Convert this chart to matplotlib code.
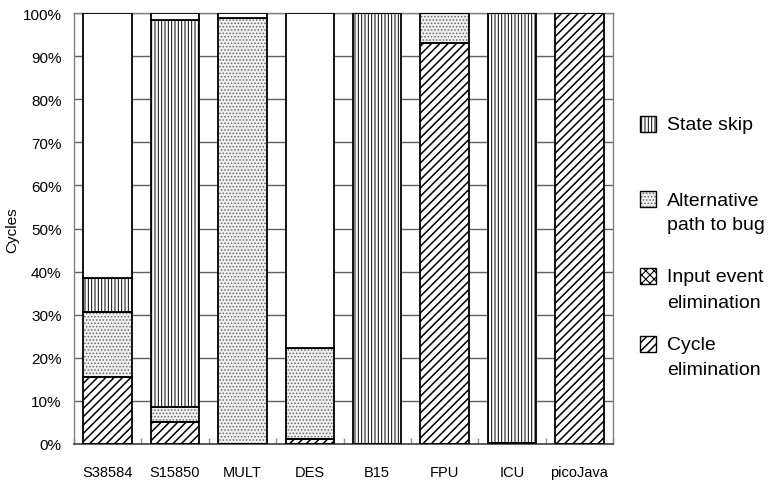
import matplotlib
matplotlib.use("Agg")
import matplotlib.pyplot as plt
import numpy as np
from matplotlib.patches import Rectangle

plt.rcParams['font.family'] = ['Liberation Sans', 'DejaVu Sans']
plt.rcParams['hatch.linewidth'] = 0.8

# Share of cycles (%) per benchmark, per reduction technique
categories = ['S38584', 'S15850', 'MULT', 'DES', 'B15', 'FPU', 'ICU', 'picoJava']
cycle_elim = [15.5, 5.2, 0.0, 1.1, 0.0, 93.1, 0.3, 100.0]
input_elim = [0.0, 0.0, 0.0, 0.0, 0.0, 0.0, 0.0, 0.0]
alt_path = [15.2, 3.3, 98.8, 21.1, 0.0, 6.9, 0.0, 0.0]
state_skip = [7.8, 89.9, 0.0, 0.0, 100.0, 0.0, 99.7, 0.0]
y_ticks = [0, 10, 20, 30, 40, 50, 60, 70, 80, 90, 100]
y_tick_labels = ['0%', '10%', '20%', '30%', '40%', '50%', '60%', '70%', '80%', '90%', '100%']

# name, values, hatch, hatch colour, face colour, hatch line width
series = [
    ('Cycle elimination', cycle_elim, '////', 'black', 'white', 1.1),
    ('Input event elimination', input_elim, 'xxxx', 'black', 'white', 0.8),
    ('Alternative path to bug', alt_path, '.....', '#666666', '#efefef', 0.7),
    ('State skip', state_skip, '|||||', 'black', 'white', 0.7),
]

W, H = 769, 485
fig = plt.figure(figsize=(W / 100, H / 100), dpi=100)
ax = fig.add_axes([74 / W, 1 - 445 / H, (613 - 74) / W, (445 - 14) / H])

x = np.arange(len(categories))
width = 0.72
bottom = np.zeros(len(categories))
for name, vals, hatch, hcol, fcol, hlw in series:
    v = np.array(vals)
    with plt.rc_context({'hatch.linewidth': hlw}):
        ax.bar(x, v, width, bottom=bottom, color=fcol, edgecolor=hcol,
               hatch=hatch, linewidth=0, zorder=2)
    ax.bar(x, v, width, bottom=bottom, fill=False, edgecolor='black',
           linewidth=1.3, zorder=3)
    bottom = bottom + v

# unclassified remainder up to 100%
rest = 100 - bottom
ax.bar(x, rest, width, bottom=bottom, color='white', edgecolor='black',
       linewidth=1.3, zorder=3)

ax.set_xlim(-0.5, len(categories) - 0.5)
ax.set_ylim(0, 100)
ax.set_yticks(y_ticks)
ax.set_yticklabels(y_tick_labels)
ax.set_xticks(x)
ax.set_xticklabels(categories)
ax.set_xticks(np.arange(len(categories) + 1) - 0.5, minor=True)
ax.tick_params(axis='x', which='major', length=0, pad=15, labelsize=10.5)
ax.tick_params(axis='x', which='minor', direction='in', length=4,
               color='#909090', width=1)
ax.tick_params(axis='y', length=0, pad=9, labelsize=11)

ax.set_axisbelow(True)
ax.yaxis.grid(True, color='#606060', linewidth=1)
for side in ['left', 'top', 'right']:
    ax.spines[side].set_color('#808080')
    ax.spines[side].set_linewidth(1)
ax.spines['bottom'].set_color('#404040')
ax.spines['bottom'].set_linewidth(1.2)

fig.text(12 / W, 1 - 230 / H, 'Cycles', rotation=90, ha='center',
         va='center', fontsize=11)

# legend, drawn top to bottom
legend_items = [
    (['State skip'], '|||||', 'black', 'white', 0.7, 126),
    (['Alternative', 'path to bug'], '.....', '#666666', '#efefef', 0.7, 201),
    (['Input event', 'elimination'], 'xxxx', 'black', 'white', 0.8, 278),
    (['Cycle', 'elimination'], '////', 'black', 'white', 1.1, 346),
]
hs = 16
for lines, hatch, hcol, fcol, hlw, yc in legend_items:
    hy = yc - 1
    with plt.rc_context({'hatch.linewidth': hlw}):
        fig.add_artist(Rectangle((640 / W, 1 - (hy + hs / 2) / H), hs / W, hs / H,
                                 transform=fig.transFigure, facecolor=fcol,
                                 edgecolor=hcol, hatch=hatch, linewidth=0))
    fig.add_artist(Rectangle((640 / W, 1 - (hy + hs / 2) / H), hs / W, hs / H,
                             transform=fig.transFigure, fill=False,
                             edgecolor='black', linewidth=1))
    for i, line in enumerate(lines):
        fig.text(667 / W, 1 - (yc + 25 * i) / H, line, ha='left',
                 va='center', fontsize=14)

fig.savefig('out.png', dpi=100)
